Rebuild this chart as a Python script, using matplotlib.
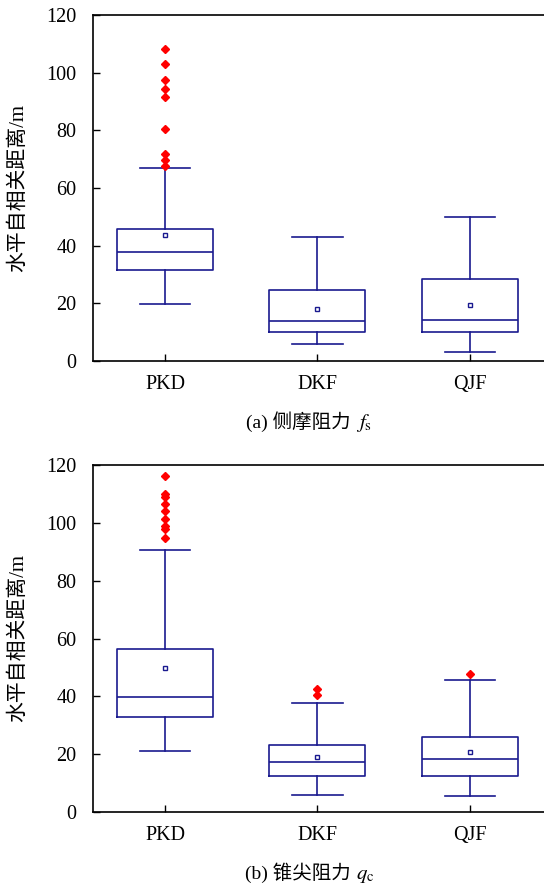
import matplotlib
matplotlib.use("Agg")
import matplotlib.pyplot as plt

plt.rcParams['font.family'] = ['Liberation Serif', 'Noto Sans CJK SC', 'DejaVu Sans']
plt.rcParams['mathtext.fontset'] = 'stix'

categories = ["PKD", "DKF", "QJF"]

# Panel (a) side friction fs
a_whislo = [19.7, 6.0, 3.2]
a_q1 = [31.6, 10.1, 9.9]
a_med = [37.9, 13.9, 14.1]
a_q3 = [45.7, 24.7, 28.3]
a_whishi = [67.0, 43.1, 49.9]
a_mean = [43.6, 18.2, 19.4]
a_fliers = [[108.1, 102.9, 97.5, 94.3, 91.7, 80.4, 71.8, 69.7, 67.6], [], []]

# Panel (b) cone resistance qc
b_whislo = [21.2, 5.9, 5.7]
b_q1 = [32.9, 12.4, 12.4]
b_med = [39.7, 17.2, 18.4]
b_q3 = [56.2, 23.3, 25.9]
b_whishi = [90.7, 37.7, 45.8]
b_mean = [49.8, 19.1, 20.7]
b_fliers = [[116.1, 109.8, 109.0, 106.5, 104.0, 101.4, 98.8, 97.7, 94.8], [42.6, 40.5], [47.7]]

y_ticks = [0, 20, 40, 60, 80, 100, 120]
ylabel = "水平自相关距离/m"
caption_text = ["(a) 侧摩阻力", "(b) 锥尖阻力"]
caption_math = ["$f_\\mathrm{s}$", "$q_\\mathrm{c}$"]

navy = "#1a1a8f"

fig = plt.figure(figsize=(5.44, 8.90), dpi=100)
positions_axes = [
    [93/544, (890-361)/890, (546-93)/544, (361-15)/890],
    [93/544, (890-812)/890, (546-93)/544, (812-465)/890],
]

panels = [
    (a_whislo, a_q1, a_med, a_q3, a_whishi, a_mean, a_fliers),
    (b_whislo, b_q1, b_med, b_q3, b_whishi, b_mean, b_fliers),
]
caption_base = [(890-428)/890, (890-879)/890]

for k, (wl, q1, med, q3, wh, mn, fl) in enumerate(panels):
    ax = fig.add_axes(positions_axes[k])
    stats = []
    for i, c in enumerate(categories):
        stats.append(dict(label=c, whislo=wl[i], q1=q1[i], med=med[i], q3=q3[i],
                          whishi=wh[i], mean=mn[i], fliers=fl[i]))
    ax.bxp(stats, positions=[1, 2, 3], widths=0.63, showmeans=True, showfliers=True,
           boxprops=dict(color=navy, linewidth=1.2),
           whiskerprops=dict(color=navy, linewidth=1.2),
           capprops=dict(color=navy, linewidth=1.2),
           medianprops=dict(color=navy, linewidth=1.2),
           meanprops=dict(marker='s', markerfacecolor='white', markeredgecolor=navy,
                          markersize=3.5, markeredgewidth=1.0),
           flierprops=dict(marker='D', markerfacecolor='red', markeredgecolor='red',
                           markersize=4),
           capwidths=0.33)
    ax.set_xlim(0.528, 3.5)
    ax.set_ylim(0, 120)
    ax.set_yticks(y_ticks)
    ax.set_xticks([1, 2, 3])
    ax.set_xticklabels(categories)
    ax.tick_params(axis='y', direction='in', length=5, labelsize=14.5, width=1, pad=12)
    ax.tick_params(axis='x', direction='in', length=5, labelsize=14.5, width=1, pad=10)
    ax.spines['right'].set_visible(False)
    for s in ['left', 'top', 'bottom']:
        ax.spines[s].set_linewidth(1.2)
    ax.set_ylabel(ylabel, fontsize=15)
    ax.yaxis.set_label_coords(-(93-28)/453, 0.5)
    fig.text(351/544, caption_base[k], caption_text[k], ha='right', va='baseline', fontsize=14)
    fig.text(356/544, caption_base[k], caption_math[k], ha='left', va='baseline', fontsize=15)

fig.savefig("out.png", dpi=100)
